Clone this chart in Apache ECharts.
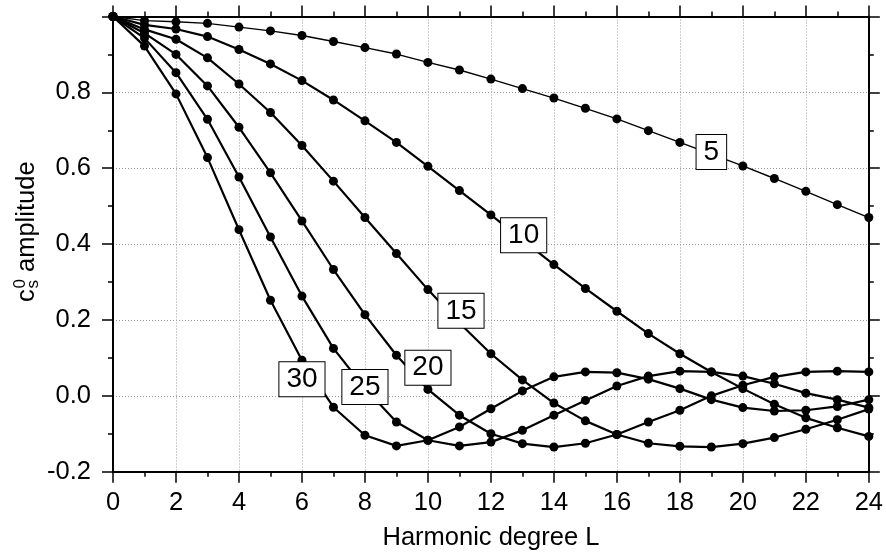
<!DOCTYPE html>
<html>
<head>
<meta charset="utf-8">
<script src="https://cdn.jsdelivr.net/npm/echarts@6/dist/echarts.min.js"></script>
<style>
  html, body { margin: 0; padding: 0; background: #fff; }
  #main { width: 886px; height: 556px; }
</style>
</head>
<body>
<div id="main"></div>
<script>
// harmonic degree L
var degrees = [0,1,2,3,4,5,6,7,8,9,10,11,12,13,14,15,16,17,18,19,20,21,22,23,24]

// c_s^0 amplitude (one list per cap size)
var cap5 = [1.0,0.989,0.986,0.982,0.972,0.962,0.950,0.934,0.918,0.901,0.879,0.859,0.835,0.810,0.785,0.758,0.730,0.699,0.668,0.637,0.606,0.573,0.539,0.504,0.470]
var cap10 = [1.0,0.978,0.967,0.947,0.913,0.875,0.831,0.780,0.725,0.668,0.605,0.541,0.477,0.411,0.346,0.283,0.223,0.164,0.111,0.063,0.019,-0.022,-0.058,-0.084,-0.107]
var cap15 = [1.0,0.966,0.940,0.891,0.822,0.747,0.660,0.566,0.470,0.375,0.280,0.192,0.111,0.042,-0.019,-0.066,-0.102,-0.125,-0.133,-0.135,-0.126,-0.110,-0.088,-0.063,-0.035]
var cap20 = [1.0,0.956,0.900,0.817,0.708,0.588,0.461,0.333,0.214,0.107,0.017,-0.051,-0.100,-0.126,-0.135,-0.125,-0.102,-0.069,-0.038,0.000,0.028,0.050,0.063,0.065,0.063]
var cap25 = [1.0,0.943,0.852,0.729,0.577,0.419,0.263,0.125,0.020,-0.069,-0.117,-0.132,-0.122,-0.091,-0.051,-0.012,0.026,0.052,0.065,0.063,0.052,0.032,0.007,-0.010,-0.031]
var cap30 = [1.0,0.922,0.796,0.628,0.438,0.252,0.094,-0.030,-0.104,-0.132,-0.117,-0.082,-0.034,0.013,0.050,0.063,0.061,0.044,0.019,-0.010,-0.031,-0.040,-0.038,-0.028,-0.010]

// curve labels (boxed numbers sitting on the lines)
var labelText = ['5','10','15','20','25','30']
var labelL = [19, 13.04, 11.05, 10, 8, 6]
var labelY = [0.643, 0.4235, 0.224, 0.074, 0.023, 0.044]

var FONT = "'Liberation Sans', Arial, Helvetica, sans-serif"

function pairs(ys) {
  var out = []
  for (var i = 0; i < degrees.length; i++) {
    out.push([degrees[i], ys[i]])
  }
  return out
}

function curve(name, ys, width) {
  return {
    name: name,
    type: 'line',
    data: pairs(ys),
    symbol: 'circle',
    symbolSize: 9,
    showSymbol: true,
    lineStyle: { color: '#000', width: width },
    itemStyle: { color: '#000' },
    z: 3
  }
}

var labelData = []
for (var k = 0; k < labelText.length; k++) {
  labelData.push([labelL[k], labelY[k], labelText[k]])
}

var frameLine = { show: true, onZero: false, lineStyle: { color: '#000', width: 2 } }
var tick = { show: true, inside: false, length: 11, lineStyle: { color: '#000', width: 1.5 } }
var minor = { show: true, splitNumber: 2, length: 5, lineStyle: { color: '#000', width: 1.5 } }

var chart = echarts.init(document.getElementById('main'), null, { renderer: 'canvas' })

var option = {
  animation: false,
  backgroundColor: '#fff',
  textStyle: { fontFamily: FONT },
  grid: { left: 113, right: 14, top: 16.5, bottom: 84.3 },
  xAxis: [
    {
      type: 'value', min: 0, max: 24, interval: 2, position: 'bottom',
      axisLine: frameLine, axisTick: tick, minorTick: minor,
      axisLabel: { fontSize: 25.5, color: '#000', margin: 18, fontFamily: FONT },
      splitLine: { show: true, lineStyle: { color: '#999', width: 1, type: [1, 2] } },
      name: 'Harmonic degree L', nameLocation: 'middle', nameGap: 53,
      nameTextStyle: { fontSize: 25.5, color: '#000', fontFamily: FONT }
    },
    {
      type: 'value', min: 0, max: 24, interval: 2, position: 'top',
      axisLine: frameLine, axisTick: tick, minorTick: minor,
      axisLabel: { show: false }, splitLine: { show: false }
    }
  ],
  yAxis: [
    {
      type: 'value', min: -0.2, max: 1.0, interval: 0.2, position: 'left',
      axisLine: frameLine, axisTick: tick, minorTick: minor,
      axisLabel: {
        fontSize: 25.5, color: '#000', margin: 22, fontFamily: FONT,
        formatter: function (v) { return v > 0.99 ? '' : v.toFixed(1) }
      },
      splitLine: { show: true, lineStyle: { color: '#999', width: 1, type: [1, 2] } }
    },
    {
      type: 'value', min: -0.2, max: 1.0, interval: 0.2, position: 'right',
      axisLine: frameLine, axisTick: tick, minorTick: minor,
      axisLabel: { show: false }, splitLine: { show: false }
    }
  ],
  series: [
    curve('5', cap5, 1.4),
    curve('10', cap10, 2.2),
    curve('15', cap15, 2.2),
    curve('20', cap20, 2.2),
    curve('25', cap25, 2.2),
    curve('30', cap30, 2.2),
    {
      type: 'scatter',
      data: labelData,
      symbolSize: 1,
      itemStyle: { color: '#fff', opacity: 1 },
      z: 10,
      label: {
        show: true, position: 'inside', opacity: 1,
        formatter: function (p) { return p.value[2] },
        fontSize: 28, lineHeight: 28, color: '#000', fontFamily: FONT,
        backgroundColor: '#fff', borderColor: '#000', borderWidth: 1,
        padding: [4, 7, 2, 7]
      }
    }
  ],
  graphic: [
    {
      type: 'group',
      x: 35, y: 302,
      rotation: Math.PI / 2,
      children: [
        { type: 'text', x: 0, y: 5, style: { text: 'c', font: '25.5px ' + FONT, fill: '#000', align: 'left', verticalAlign: 'bottom' } },
        { type: 'text', x: 13.5, y: 7, style: { text: 's', font: '17px ' + FONT, fill: '#000', align: 'left', verticalAlign: 'bottom' } },
        { type: 'text', x: 13.5, y: -6, style: { text: '0', font: '17px ' + FONT, fill: '#000', align: 'left', verticalAlign: 'bottom' } },
        { type: 'text', x: 30, y: 5, style: { text: 'amplitude', font: '25.5px ' + FONT, fill: '#000', align: 'left', verticalAlign: 'bottom' } }
      ]
    }
  ]
}

chart.setOption(option)
</script>
</body>
</html>
